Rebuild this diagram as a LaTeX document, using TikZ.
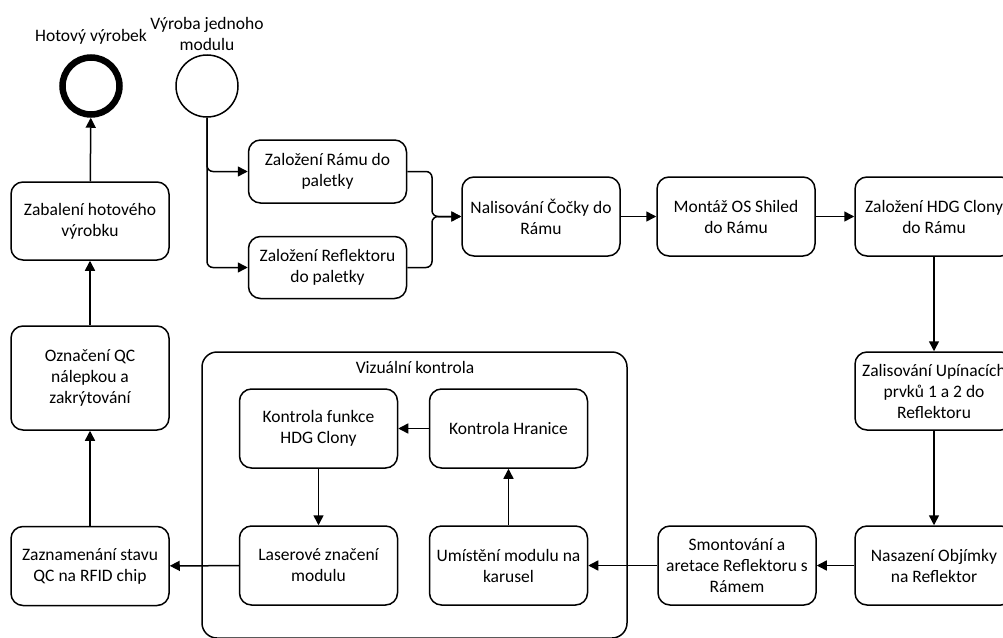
\documentclass[tikz,border=0pt]{standalone}
\usepackage{fontspec}
\setmainfont{Carlito}
\usetikzlibrary{arrows.meta}

\tikzset{
  every node/.style={font=\fontsize{17.5}{21}\selectfont, align=center, inner sep=0pt},
  task/.style={draw, line width=1.5pt, rounded corners=12pt, minimum width=158pt, minimum height=79pt, fill=white},
  flow/.style={line width=1.5pt, -{Triangle[length=10pt,width=10pt]}},
  branch/.style={flow, rounded corners=6pt},
  startev/.style={draw, circle, line width=1.5pt, minimum size=62pt},
  endev/.style={draw, circle, line width=6.5pt, minimum size=57pt},
  group/.style={draw, line width=1.5pt, rounded corners=15pt},
}

\begin{document}
\begin{tikzpicture}[x=1pt,y=-1pt]
  \useasboundingbox (0,0) rectangle (1003,637);
  \clip (0,0) rectangle (1003,637);

  % group frame for the visual inspection steps
  \node[group, minimum width=425pt, minimum height=286pt] (vk) at (414.5,495) {};
  \node (vklbl) at (415,367) {Vizuální kontrola};

  % events
  \node[endev] (end) at (91,86) {};
  \node (endlbl) at (91,37) {Hotový výrobek};
  \node[startev] (start) at (207,86) {};
  \node (startlbl) at (207,34) {Výroba jednoho\\modulu};

  % tasks
  \node[task, minimum height=63pt] (ramu) at (327.5,171.5) {Založení Rámu do\\paletky};
  \node[task, minimum height=62pt] (refl) at (327.5,267.5) {Založení Reflektoru\\do paletky};
  \node[task] (nal) at (541,216.5) {Nalisování Čočky do\\Rámu};
  \node[task] (mont) at (736,216.5) {Montáž OS Shiled\\do Rámu};
  \node[task] (hdg) at (934,216.5) {Založení HDG Clony\\do Rámu};
  \node[task, minimum height=78pt] (upin) at (934,391) {Zalisování Upínacích\\prvků 1 a 2 do\\Reflektoru};
  \node[task] (obj) at (934,565.5) {Nasazení Objímky\\na Reflektor};
  \node[task] (smont) at (737,565.5) {Smontování a\\aretace Reflektoru s\\Rámem};
  \node[task] (umist) at (508.5,565.5) {Umístění modulu na\\karusel};
  \node[task] (hran) at (508.5,428.5) {Kontrola Hranice};
  \node[task] (funk) at (318.5,428.5) {Kontrola funkce\\HDG Clony};
  \node[task] (laser) at (318.5,565.5) {Laserové značení\\modulu};
  \node[task] (rfid) at (90,566) {Zaznamenání stavu\\QC na RFID chip};
  \node[task, minimum height=104pt] (qc) at (90,378) {Označení QC\\nálepkou a\\zakrýtování};
  \node[task, minimum height=78pt] (bal) at (90,221) {Zabalení hotového\\výrobku};

  % sequence flows
  \coordinate (merge) at (432,216.5);
  \draw[branch] (start.south) |- (ramu.west);
  \draw[branch] (start.south) |- (refl.west);
  \draw[branch] (ramu.east) -| (merge) -- (nal.west);
  \draw[branch] (refl.east) -| (merge) -- (nal.west);
  \draw[flow] (nal) -- (mont);
  \draw[flow] (mont) -- (hdg);
  \draw[flow] (hdg) -- (upin);
  \draw[flow] (upin) -- (obj);
  \draw[flow] (obj) -- (smont);
  \draw[flow] (smont) -- (umist);
  \draw[flow] (umist) -- (hran);
  \draw[flow] (hran) -- (funk);
  \draw[flow] (funk) -- (laser);
  \draw[flow] (laser) -- (rfid);
  \draw[flow] (rfid) -- (qc);
  \draw[flow] (qc) -- (bal);
  \draw[flow] (bal) -- (end);
\end{tikzpicture}
\end{document}
